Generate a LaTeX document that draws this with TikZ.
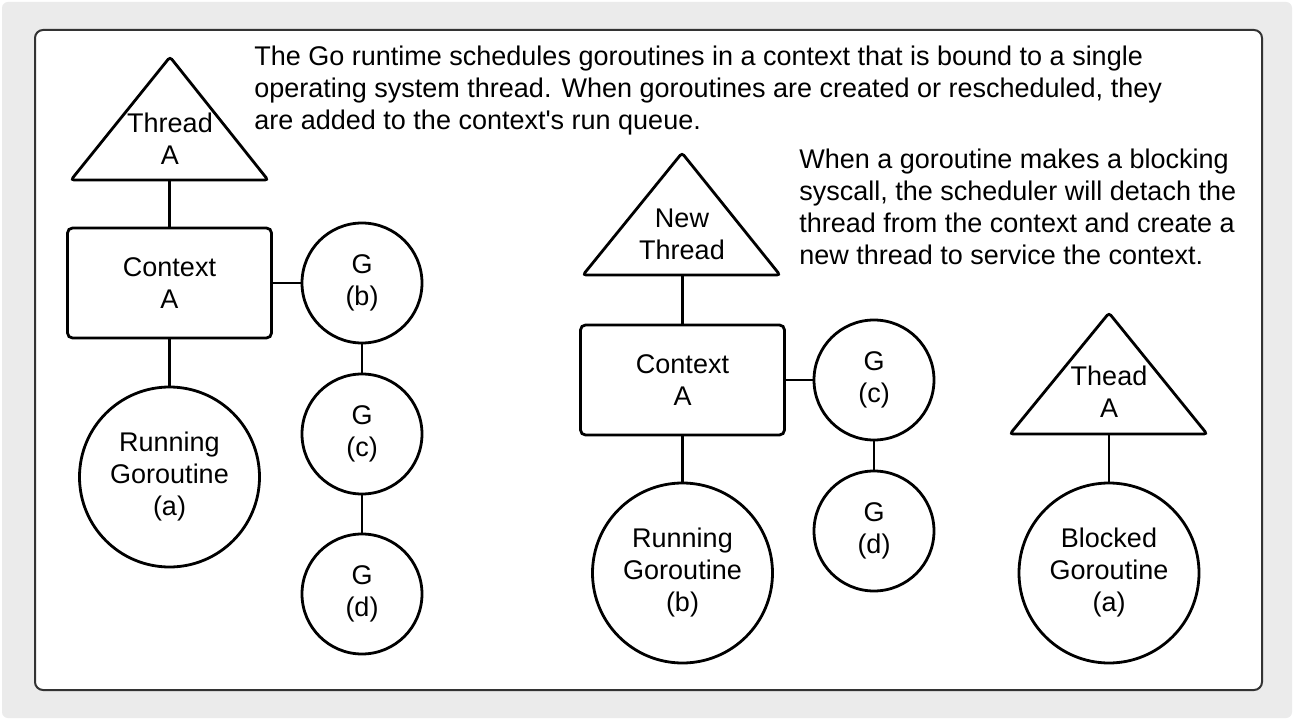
\documentclass[tikz,border=0pt]{standalone}
\usepackage{fontspec}
\setmainfont{Liberation Sans}
\definecolor{bggray}{HTML}{EBEBEB}
\definecolor{frame}{HTML}{333333}
\begin{document}
\begin{tikzpicture}[x=1pt,y=-1pt,line width=2.8pt,
    ctx/.style={draw,rounded corners=5pt,minimum width=204pt,minimum height=110pt,align=center},
    gor/.style={draw,circle,minimum size=120pt,align=center},
    run/.style={draw,circle,minimum size=180pt,align=center},
    lbl/.style={align=center,inner sep=0pt},
    note/.style={align=left,inner sep=0pt,anchor=west},
    font=\fontsize{27}{32}\selectfont]

    % fondo y marco
    \fill[white] (0,0) rectangle (1294,722);
    \fill[bggray, rounded corners=6pt] (2,2) rectangle (1292,718);
    \draw[line width=2pt, draw=frame, fill=white, rounded corners=8pt] (35,30) rectangle (1262,690);
    \useasboundingbox (0,0) rectangle (1294,722);

    % textos
    \node[note] (noteA) at (253,91) {The Go runtime schedules goroutines in a context that is bound to a single\\operating system thread. When goroutines are created or rescheduled, they\\are added to the context\textquotesingle s run queue.};
    \node[note] (noteB) at (798,206.5) {When a goroutine makes a blocking\\syscall, the scheduler will detach the\\thread from the context and create a\\new thread to service the context.};

    % izquierda: thread A, context A
    \draw[rounded corners=3pt] (170,57) -- (268,180) -- (71,180) -- cycle;
    \coordinate (thrA) at (169.5,180);
    \node[lbl] (thrAtxt) at (170,139) {Thread\\A};
    \node[ctx] (ctxA) at (169.5,283) {Context\\A};
    \node[run] (runA) at (169.5,477) {Running\\Goroutine\\(a)};
    \node[gor] (gB) at (362,283) {G\\(b)};
    \node[gor] (gC) at (362,434) {G\\(c)};
    \node[gor] (gD) at (362,594) {G\\(d)};
    \draw (thrA) -- (ctxA);
    \draw (ctxA) -- (runA);
    \draw (ctxA) -- (gB);
    \draw (gB) -- (gC);
    \draw (gC) -- (gD);

    % centro: new thread
    \draw[rounded corners=3pt] (682,153) -- (780,275) -- (583,275) -- cycle;
    \coordinate (thrN) at (682.5,275);
    \node[lbl] (thrNtxt) at (682,234) {New\\Thread};
    \node[ctx] (ctxB) at (682.5,380) {Context\\A};
    \node[run] (runB) at (682.5,573) {Running\\Goroutine\\(b)};
    \node[gor] (gC2) at (874,380) {G\\(c)};
    \node[gor] (gD2) at (874,531) {G\\(d)};
    \draw (thrN) -- (ctxB);
    \draw (ctxB) -- (runB);
    \draw (ctxB) -- (gC2);
    \draw (gC2) -- (gD2);

    % derecha: thread A bloqueado
    \draw[rounded corners=3pt] (1109,313) -- (1207,434) -- (1010,434) -- cycle;
    \coordinate (thrB) at (1109,434);
    \node[lbl] (thrBtxt) at (1109,392) {Thead\\A};
    \node[run] (blkA) at (1109,573) {Blocked\\Goroutine\\(a)};
    \draw (thrB) -- (blkA);
\end{tikzpicture}
\end{document}
